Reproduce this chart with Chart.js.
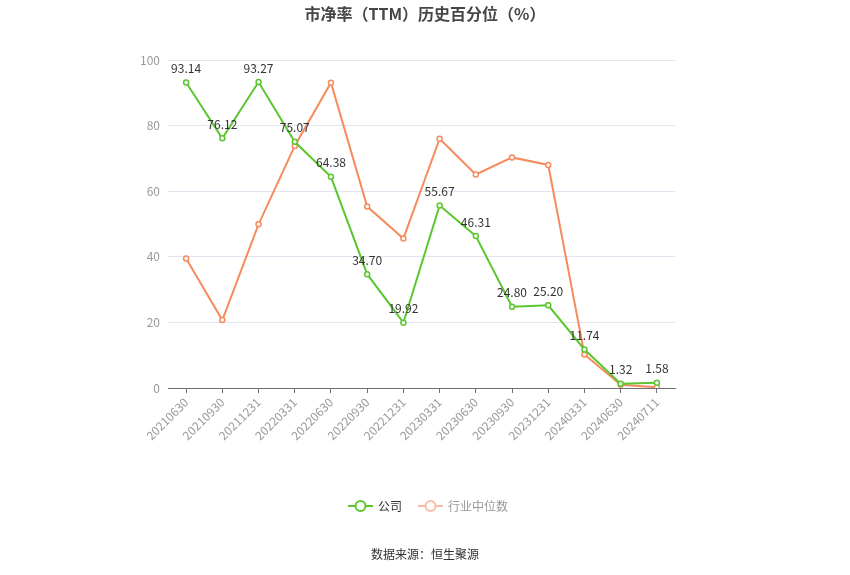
<!DOCTYPE html>
<html>
<head>
<meta charset="utf-8">
<script src="https://cdn.jsdelivr.net/npm/chart.js@4"></script>
<style>
  html, body { margin: 0; padding: 0; background: #fff; }
  #wrap { width: 850px; height: 575px; position: relative; }
</style>
</head>
<body>
<div id="wrap"><canvas id="chart" width="850" height="575"></canvas></div>
<script>
const labels = ["20210630", "20210930", "20211231", "20220331", "20220630", "20220930", "20221231",
  "20230331", "20230630", "20230930", "20231231", "20240331", "20240630", "20240711"];
const companyValues = [93.14, 76.12, 93.27, 75.07, 64.38, 34.70, 19.92, 55.67, 46.31, 24.80, 25.20, 11.74, 1.32, 1.58];
const industryValues = [39.5, 20.7, 49.9, 73.8, 93.1, 55.3, 45.6, 76.0, 65.1, 70.3, 68.0, 10.2, 1.0, 0.2];
const yTicks = [0, 20, 40, 60, 80, 100];

const FONT = "'Noto Sans CJK SC', 'Noto Sans', sans-serif";
const GREEN = "#5ac72f";
const ORANGE = "#f68b5e";

// 数据标签 + 标题 + 图例 + 来源
const extras = {
  id: "extras",
  afterDatasetsDraw(chart) {
    const ctx = chart.ctx;
    const meta = chart.getDatasetMeta(0);
    ctx.save();
    ctx.font = "12px " + FONT;
    ctx.fillStyle = "#333";
    ctx.textAlign = "center";
    ctx.textBaseline = "bottom";
    meta.data.forEach((pt, i) => {
      ctx.fillText(companyValues[i].toFixed(2), pt.x, pt.y - 8);
    });
    ctx.restore();
  },
  afterDraw(chart) {
    const ctx = chart.ctx;
    ctx.save();
    // 标题
    ctx.font = "bold 16px " + FONT;
    ctx.fillStyle = "#464646";
    ctx.textAlign = "center";
    ctx.textBaseline = "middle";
    ctx.fillText("市净率（TTM）历史百分位（%）", 425, 14);

    // 图例
    const items = [
      { x: 348, color: GREEN, text: "公司", textColor: "#333" },
      { x: 418, color: "#fbbca3", text: "行业中位数", textColor: "#999" },
    ];
    ctx.font = "12px " + FONT;
    ctx.textAlign = "left";
    items.forEach((it) => {
      const y = 506;
      ctx.strokeStyle = it.color;
      ctx.lineWidth = 2;
      ctx.beginPath();
      ctx.moveTo(it.x, y);
      ctx.lineTo(it.x + 25, y);
      ctx.stroke();
      ctx.beginPath();
      ctx.arc(it.x + 12.5, y, 5, 0, Math.PI * 2);
      ctx.fillStyle = "#fff";
      ctx.fill();
      ctx.stroke();
      ctx.fillStyle = it.textColor;
      ctx.fillText(it.text, it.x + 30, y);
    });

    // 来源
    ctx.fillStyle = "#333";
    ctx.textAlign = "center";
    ctx.fillText("数据来源：恒生聚源", 425, 554);
    ctx.restore();
  },
};

new Chart(document.getElementById("chart"), {
  type: "line",
  data: {
    labels: labels,
    datasets: [
      {
        label: "公司",
        data: companyValues,
        borderColor: GREEN,
        backgroundColor: "#fff",
        borderWidth: 2,
        pointRadius: 2.5,
        pointBorderWidth: 1.5,
        pointBackgroundColor: "#fff",
        pointBorderColor: GREEN,
        tension: 0,
      },
      {
        label: "行业中位数",
        data: industryValues,
        borderColor: ORANGE,
        backgroundColor: "#fff",
        borderWidth: 2,
        pointRadius: 2.5,
        pointBorderWidth: 1.5,
        pointBackgroundColor: "#fff",
        pointBorderColor: ORANGE,
        tension: 0,
      },
    ],
  },
  options: {
    responsive: false,
    animation: false,
    events: [],
    layout: { padding: { left: 120, right: 175, top: 60, bottom: 127 } },
    plugins: {
      legend: { display: false },
      title: { display: false },
      tooltip: { enabled: false },
    },
    scales: {
      x: {
        offset: true,
        grid: {
          display: true,
          drawOnChartArea: false,
          drawTicks: true,
          tickLength: 5,
          color: "#6e7079",
          offset: false,
        },
        border: { color: "#6e7079", width: 1 },
        ticks: {
          color: "#999",
          font: { family: FONT, size: 12 },
          maxRotation: 45,
          minRotation: 45,
          autoSkip: false,
          padding: 2,
        },
        afterFit(s) { s.height = 60; },
      },
      y: {
        min: 0,
        max: 100,
        afterBuildTicks(s) { s.ticks = yTicks.map((v) => ({ value: v })); },
        grid: { color: "#e0e6f1", drawTicks: false },
        border: { display: false },
        ticks: {
          color: "#999",
          font: { family: FONT, size: 12 },
          padding: 8,
        },
        afterFit(s) { s.width = 48; },
      },
    },
  },
  plugins: [extras],
});
</script>
</body>
</html>
